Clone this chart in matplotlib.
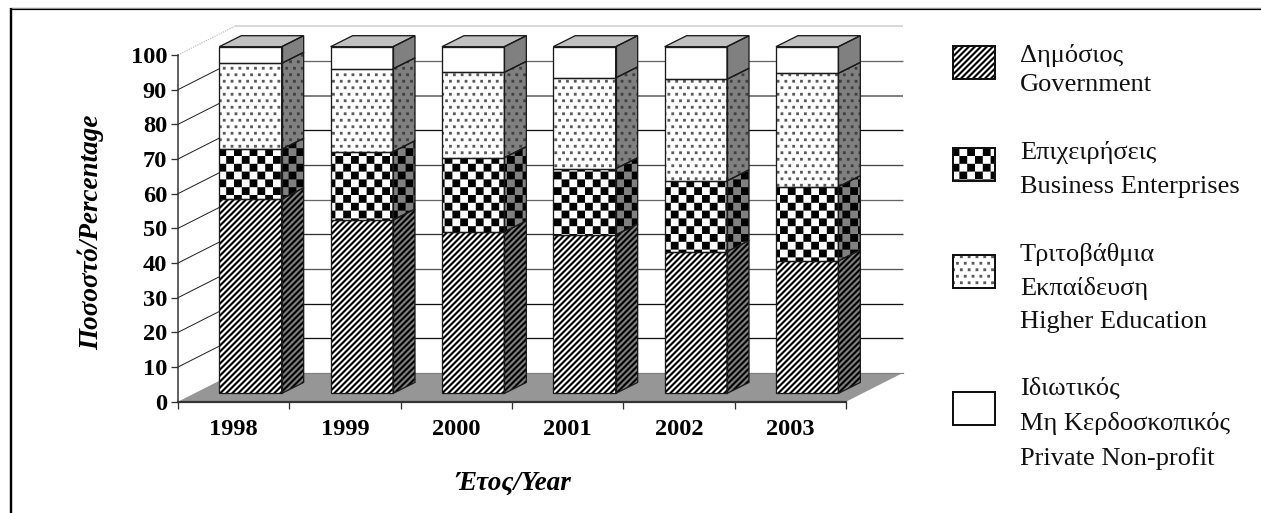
import numpy as np
import matplotlib
matplotlib.use("Agg")
import matplotlib.pyplot as plt
import matplotlib.hatch as mhatch
from matplotlib.patches import Polygon, Rectangle
from matplotlib.path import Path

plt.rcParams['font.family'] = ['Liberation Serif', 'DejaVu Serif']
plt.rcParams['hatch.linewidth'] = 0.01

# ---------- data ----------
years = ['1998', '1999', '2000', '2001', '2002', '2003']
government = [56.1, 50.0, 46.6, 45.7, 40.9, 38.2]
business = [14.3, 19.7, 21.4, 19.1, 20.4, 21.4]
higher_ed = [24.8, 23.9, 24.6, 26.2, 29.3, 32.7]
private_np = [4.8, 6.4, 7.4, 9.0, 9.4, 7.7]
y_ticks = [0, 10, 20, 30, 40, 50, 60, 70, 80, 90, 100]

legend_lines = [
    ['Δημόσιος', 'Government'],
    ['Επιχειρήσεις', 'Business Enterprises'],
    ['Τριτοβάθμια', 'Εκπαίδευση', 'Higher Education'],
    ['Ιδιωτικός', 'Μη Κερδοσκοπικός', 'Private Non-profit'],
]

# ---------- custom hatch tiles (one tile = one inch = dpi pixels) ----------
DPI = 78
W, H = 1261, 513


class _Tile:
    char = ''

    def __init__(self, hatch, density):
        self.rects = self.make() if self.char in (hatch or '') else []
        self.num_vertices = 5 * len(self.rects)

    def set_vertices_and_codes(self, vertices, codes):
        for i, poly in enumerate(self.rects):
            vertices[5 * i:5 * i + 4] = poly
            vertices[5 * i + 4] = poly[0]
            codes[5 * i] = Path.MOVETO
            codes[5 * i + 1:5 * i + 4] = Path.LINETO
            codes[5 * i + 4] = Path.CLOSEPOLY


class CheckTile(_Tile):
    char = '|'

    def make(self):
        n = 10
        s = 1.0 / n
        return [[(i * s, j * s), ((i + 1) * s, j * s),
                 ((i + 1) * s, (j + 1) * s), (i * s, (j + 1) * s)]
                for i in range(n) for j in range(n) if (i + j) % 2 == 0]


class StripeTile(_Tile):
    char = '/'

    def make(self):
        n = 13
        w = 0.5 / n
        return [[(i / n, 0), (i / n + w, 0), (i / n + w + 1, 1), (i / n + 1, 1)]
                for i in range(-n - 1, n + 1)]


class DotTile(_Tile):
    char = '.'

    def make(self):
        nx, ny = 10, 12
        r = 0.018
        out = []
        for j in range(ny):
            for i in range(nx):
                cx = (i + (0.25 if j % 2 == 0 else 0.75)) / nx
                cy = (j + .5) / ny
                out.append([(cx - r, cy - r), (cx + r, cy - r),
                            (cx + r, cy + r), (cx - r, cy + r)])
        return out


mhatch._hatch_types[:] = [CheckTile, StripeTile, DotTile]

# ---------- geometry ----------
X0, X1, Y100, Y0 = 178.0, 846.0, 55.0, 401.7
fig = plt.figure(figsize=((W + .01) / DPI, (H + .01) / DPI), dpi=DPI, facecolor='white')
ax = fig.add_axes([X0 / W, 1 - Y0 / H, (X1 - X0) / W, (Y0 - Y100) / H])
ax.set_xlim(0, 6)
ax.set_ylim(0, 100)
ax.patch.set_visible(False)

px = lambda p: p * 72 / DPI
ux = (X1 - X0) / 6
uy = (Y0 - Y100) / 100
DX, DY = 56.5 / ux, 28.6 / uy            # wall depth
OX, OY = 16.8 / ux, 8.3 / uy             # front plane of bars
SX, SY = 22.0 / ux, 11.0 / uy            # bar depth
BW = 62.4 / ux

# ---------- walls, floor ----------
grid_cols = {0: None, 10: '#111111', 20: '#111111', 30: '#555555', 40: '#333333',
             50: '#666666', 60: '#444444', 70: '#111111', 80: '#808080', 90: '#666666', 100: '#d8d8d8'}
grid_lw = {80: 2.0, 100: 2.0}
for v in y_ticks:
    if v == 0:
        continue
    ax.plot([DX, 6 + DX], [v + DY, v + DY], color=grid_cols[v], lw=px(grid_lw.get(v, 1.3)),
            clip_on=False, zorder=1, solid_capstyle='butt')
    if v < 100:
        ax.plot([0, DX], [v, v + DY], color='#222222', lw=px(1.0), clip_on=False, zorder=1)
ax.plot([0, DX], [100, 100 + DY], color='#bbbbbb', lw=px(1.2), ls=(0, (1, 1)), clip_on=False, zorder=1)
ax.add_patch(Polygon([(0, 0), (6, 0), (6 + DX, DY), (DX, DY)], closed=True, facecolor='#969696',
                     edgecolor='none', clip_on=False, zorder=2))
ax.plot([DX, 6 + DX], [DY, DY], color='#808080', lw=px(1.2), clip_on=False, zorder=2)


def face(artist_poly, hatch, face_col, hatch_col):
    """Polygon with a hatch in its own colour and a thin black outline."""
    ax.add_patch(Polygon(artist_poly, closed=True, facecolor=face_col, edgecolor=hatch_col, lw=0,
                         hatch=hatch, clip_on=False, zorder=4))
    ax.add_patch(Polygon(artist_poly, closed=True, fill=False, edgecolor='#1a1a1a', lw=px(1.3),
                         clip_on=False, zorder=5, joinstyle='miter'))


series = [
    (government, '/', '#000000', '#000000', 'white'),
    (business, '|', '#000000', '#000000', 'white'),
    (higher_ed, '.', '#5a5a5a', '#404040', 'white'),
    (private_np, '', '#000000', '#000000', 'white'),
]

# ---------- bars ----------
x_pos = np.arange(len(years)) + 0.5
bottom = np.zeros(len(years))
for vals, hatch, hc_front, hc_side, fc in series:
    vals = np.asarray(vals, float)
    ax.bar(x_pos + OX, vals, width=BW, bottom=bottom + OY, color=fc, edgecolor=hc_front,
           linewidth=0, hatch=hatch, clip_on=False, zorder=4)
    ax.bar(x_pos + OX, vals, width=BW, bottom=bottom + OY, fill=False, edgecolor='#1a1a1a',
           linewidth=px(1.3), clip_on=False, zorder=5)
    for xc, b, h in zip(x_pos, bottom, vals):
        xr = xc + OX + BW / 2
        face([(xr, b + OY), (xr + SX, b + OY + SY), (xr + SX, b + h + OY + SY), (xr, b + h + OY)],
             hatch, '#808080', hc_side)
    bottom = bottom + vals
for xc, t in zip(x_pos, bottom):
    xl, xr = xc + OX - BW / 2, xc + OX + BW / 2
    face([(xl, t + OY), (xr, t + OY), (xr + SX, t + OY + SY), (xl + SX, t + OY + SY)],
         '', '#c0c0c0', '#000000')

# ---------- axes ----------
for s in ('top', 'right'):
    ax.spines[s].set_visible(False)
ax.spines['left'].set_color('#333333')
ax.spines['left'].set_linewidth(px(1.5))
ax.spines['bottom'].set_color('#333333')
ax.spines['bottom'].set_linewidth(px(2.2))
ax.spines['left'].set_zorder(6)
ax.spines['bottom'].set_zorder(6)
ax.set_yticks(y_ticks)
ax.set_yticklabels([str(v) for v in y_ticks], fontsize=22.5, fontweight='bold')
ax.tick_params(axis='y', length=px(7), width=px(1.3), color='#333333', pad=px(4))
ax.set_xticks(np.arange(7))
ax.set_xticklabels([])
ax.tick_params(axis='x', which='major', length=px(7), width=px(1.3), color='#333333')
ax.set_xticks(x_pos, minor=True)
ax.set_xticklabels(years, minor=True, fontsize=22.5, fontweight='bold')
ax.tick_params(axis='x', which='minor', length=0, pad=px(17))
ax.set_xlabel('Έτος/Year', fontsize=25, fontweight='bold', fontstyle='italic')
ax.xaxis.set_label_coords((513 - X0) / (X1 - X0), (Y0 - 483) / (Y0 - Y100), )
ax.xaxis.label.set_verticalalignment('center')
ax.set_ylabel('Ποσοστό/Percentage', fontsize=25, fontweight='bold', fontstyle='italic')
ax.yaxis.set_label_coords((91 - X0) / (X1 - X0), (Y0 - 232) / (Y0 - Y100))
ax.yaxis.label.set_verticalalignment('center')

# ---------- overlay: frame and legend in pixel coordinates ----------
ov = fig.add_axes([0, 0, 1, 1], zorder=10)
ov.set_xlim(0, W)
ov.set_ylim(H, 0)
ov.axis('off')
ov.plot([10, W], [9.5, 9.5], color='black', lw=px(2.2), solid_capstyle='butt')
ov.plot([10, W], [8, 8], color='#909090', lw=px(1), solid_capstyle='butt')
ov.plot([11, 11], [8.5, H], color='black', lw=px(2.4), solid_capstyle='butt')

key_tops = [46.5, 148.5, 255.5, 392.5]
text_ys = [[55, 85], [152, 187], [254, 288, 322], [388, 423, 458]]
key_style = [('/', '#000000'), ('|', '#000000'), ('.', '#5a5a5a'), ('', '#000000')]
for top, ys, lines, (h, hc) in zip(key_tops, text_ys, legend_lines, key_style):
    ov.add_patch(Rectangle((953, top), 42, 33, facecolor='white', edgecolor=hc, lw=0, hatch=h))
    ov.add_patch(Rectangle((953, top), 42, 33, fill=False, edgecolor='#111111', lw=px(2.0)))
    for yy, line in zip(ys, lines):
        ov.text(1020, yy, line, fontsize=24.4, va='center', ha='left', color='#111111')

fig.savefig('out.png', dpi=DPI)
